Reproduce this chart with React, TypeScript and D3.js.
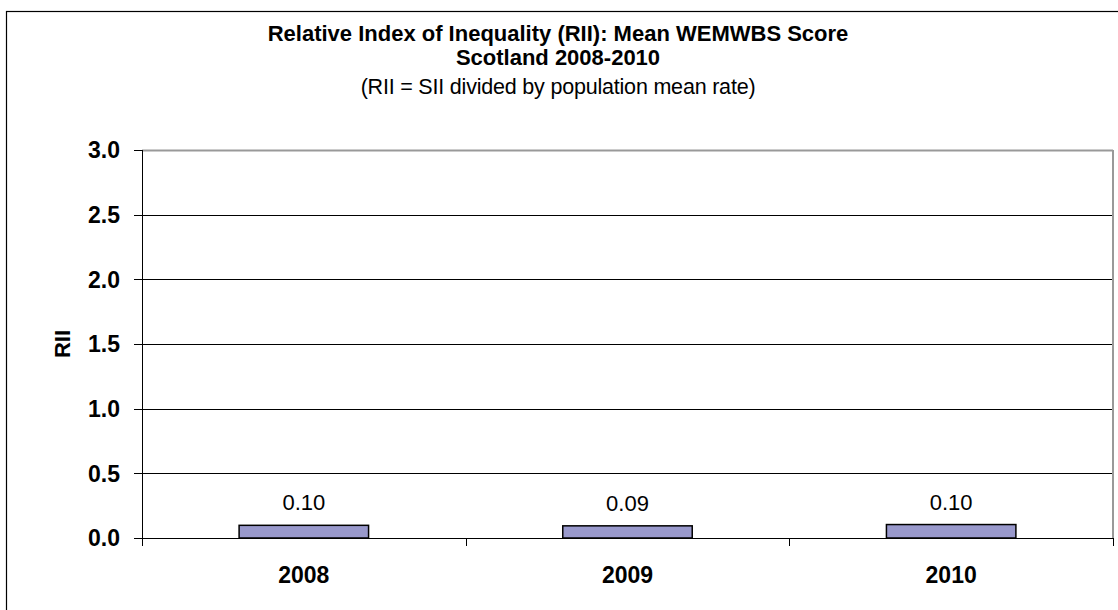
import React from "react";
import * as d3 from "d3";

const categories: string[] = ["2008", "2009", "2010"];
const riiValues: number[] = [0.098, 0.094, 0.104];
const yTicks: number[] = [0, 0.5, 1.0, 1.5, 2.0, 2.5, 3.0];
const titleLines: string[] = [
  "Relative Index of Inequality (RII): Mean WEMWBS Score",
  "Scotland 2008-2010",
];
const subtitle = "(RII = SII divided by population mean rate)";
const yAxisTitle = "RII";

const W = 1118;
const H = 610;
const FONT = "'Liberation Sans', Arial, Helvetica, sans-serif";

export default function App() {
  const left = 142;
  const right = 1113;
  const top = 150;
  const bottom = 538;

  const x = d3
    .scaleBand<string>()
    .domain(categories)
    .range([left, right])
    .paddingInner(0.6)
    .paddingOuter(0.3);
  const y = d3.scaleLinear().domain([0, 3]).range([bottom, top]);
  const fmtTick = d3.format(".1f");
  const fmtVal = d3.format(".2f");
  const step = (right - left) / categories.length;
  const catTicks = d3.range(categories.length + 1).map((i) => left + i * step);
  const px = (v: number) => Math.round(v) + 0.5;
  const cx = 558;

  return (
    <div style={{ position: "absolute", left: 0, top: 0, width: W, height: H, background: "#fff" }}>
      <svg width={W} height={H} style={{ display: "block" }} fontFamily={FONT}>
        <rect x={0} y={0} width={W} height={H} fill="#fff" />
        {/* outer chart frame */}
        <rect x={6.5} y={11.5} width={W + 20} height={H + 20} fill="none" stroke="#000" strokeWidth={1.2} />

        {/* titles */}
        <text x={cx} y={41} textAnchor="middle" fontWeight="bold" fontSize={22} fill="#000">
          {titleLines[0]}
        </text>
        <text x={cx} y={65} textAnchor="middle" fontWeight="bold" fontSize={22} fill="#000">
          {titleLines[1]}
        </text>
        <text x={cx} y={94} textAnchor="middle" fontSize={21.5} fill="#000" letterSpacing={-0.2}>
          {subtitle}
        </text>

        {/* gridlines */}
        {yTicks.slice(1, -1).map((t) => (
          <line key={"g" + t} x1={left} x2={right} y1={px(y(t))} y2={px(y(t))} stroke="#000" strokeWidth={1} />
        ))}
        {/* plot area border top/right (gray) */}
        <line x1={left} x2={right} y1={px(y(3))} y2={px(y(3))} stroke="#999" strokeWidth={2} />
        <line x1={right} x2={right} y1={top} y2={bottom} stroke="#999" strokeWidth={2} />

        {/* bars */}
        {categories.map((c, i) => (
          <rect
            key={c}
            x={x(c)!}
            y={y(riiValues[i])}
            width={x.bandwidth()}
            height={y(0) - y(riiValues[i])}
            fill="#9999CC"
            stroke="#000"
            strokeWidth={1.5}
          />
        ))}
        {/* value labels */}
        {categories.map((c, i) => (
          <text
            key={"v" + c}
            x={x(c)! + x.bandwidth() / 2}
            y={y(riiValues[i]) - 15}
            textAnchor="middle"
            fontSize={22}
            fill="#000"
          >
            {fmtVal(riiValues[i])}
          </text>
        ))}

        {/* y axis */}
        <line x1={px(left)} x2={px(left)} y1={top} y2={bottom + 8} stroke="#000" strokeWidth={1} />
        {yTicks.map((t) => (
          <g key={"y" + t}>
            <line x1={left - 8} x2={left} y1={px(y(t))} y2={px(y(t))} stroke="#000" strokeWidth={1} />
            <text x={120} y={y(t)} dy="0.36em" textAnchor="end" fontWeight="bold" fontSize={23} fill="#000">
              {fmtTick(t)}
            </text>
          </g>
        ))}
        {/* x axis */}
        <line x1={left} x2={right} y1={px(bottom)} y2={px(bottom)} stroke="#000" strokeWidth={1} />
        {catTicks.map((t, i) => (
          <line key={"xt" + i} x1={px(t)} x2={px(t)} y1={bottom} y2={bottom + 8} stroke="#000" strokeWidth={1} />
        ))}
        {categories.map((c) => (
          <text
            key={"xl" + c}
            x={x(c)! + x.bandwidth() / 2}
            y={583}
            textAnchor="middle"
            fontWeight="bold"
            fontSize={23}
            fill="#000"
          >
            {c}
          </text>
        ))}

        {/* y axis title */}
        <text
          transform={`translate(70, ${(top + bottom) / 2}) rotate(-90)`}
          textAnchor="middle"
          fontWeight="bold"
          fontSize={22}
          fill="#000"
        >
          {yAxisTitle}
        </text>
      </svg>
    </div>
  );
}
